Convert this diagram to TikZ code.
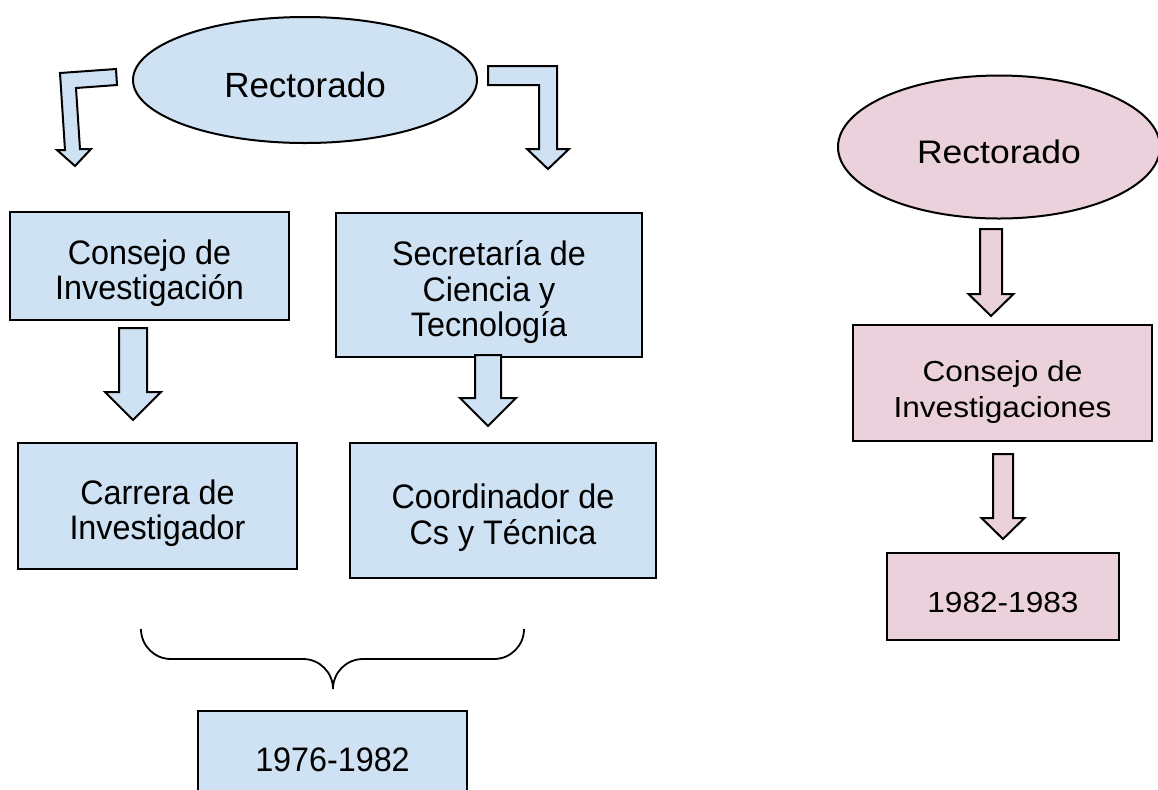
\documentclass[tikz,border=0pt]{standalone}
\usepackage{fontspec}
\setmainfont{Liberation Sans}
\newfontfamily\narrowfont[FakeStretch=0.95]{Liberation Sans}
\newfontfamily\widefont[FakeStretch=1.09]{Liberation Sans}
\usetikzlibrary{shapes.geometric, calc, positioning}
\definecolor{early}{RGB}{207, 226, 243}
\definecolor{late}{RGB}{234, 209, 220}
% hollow block arrow: colour, tail, tip, shaft half width, head half width, head length
\newcommand{\blockarrow}[6]{%
  \draw[flow, fill=#1] ($(#2)+(-#4,0)$) -- ($(#2)+(#4,0)$) -- ($(#3)+(#4,-#6)$) -- ($(#3)+(#5,-#6)$)
    -- (#3) -- ($(#3)+(-#5,-#6)$) -- ($(#3)+(-#4,-#6)$) -- cycle;}
% box text, set a little below the middle
\newcommand{\boxtext}[1]{\raisebox{0pt}[\dimexpr\height+9pt\relax][\depth]{\begin{tabular}{@{}c@{}}#1\end{tabular}}}

\begin{document}
\begin{tikzpicture}[
    x=0.5pt, y=-0.5pt,
    head/.style={ellipse, draw, line width=1pt, inner sep=0pt, align=center},
    office/.style={rectangle, draw, line width=1pt, inner sep=0pt, align=center,
                   font=\narrowfont\fontsize{17}{17.6}\selectfont},
    wideoffice/.style={office, font=\widefont\fontsize{14.5}{18}\selectfont},
    flow/.style={draw, line width=1pt, line join=miter}
]
\useasboundingbox (0,0) rectangle (1158,789);

% Left chart: 1976-1982
\node[head, fill=early, minimum width=172pt, minimum height=63pt,
      font=\fontsize{17.5}{20}\selectfont] (rectL) at (305,80) {\boxtext{Rectorado}};
\node[office, fill=early, minimum width=139.5pt, minimum height=54pt] (cons) at (149.5,266) {\boxtext{Consejo de\\Investigación}};
\node[office, fill=early, minimum width=153pt, minimum height=72pt] (secr) at (489,285) {\boxtext{Secretaría de\\Ciencia y\\Tecnología}};
\node[office, fill=early, minimum width=139.5pt, minimum height=63pt] (carr) at (157.5,506) {\boxtext{Carrera de\\Investigador}};
\node[office, fill=early, minimum width=153pt, minimum height=67.5pt] (coord) at (503,510.5) {\boxtext{Coordinador de\\Cs y Técnica}};
\node[office, fill=early, minimum width=134.5pt, minimum height=44pt] (per1) at (332.5,755) {\boxtext{1976-1982}};

% bent arrows out of the Rectorado
\draw[flow, fill=early] (60,73) -- (116,69) -- (117,85) -- (76,88) -- (80,149) -- (91,149)
    -- (75,166) -- (57,150) -- (65,150) -- cycle;
\draw[flow, fill=early] (488,66) -- (557,66) -- (557,149) -- (569,149) -- (548,169)
    -- (527,149) -- (539,149) -- (539,85) -- (488,85) -- cycle;

% straight arrows
\coordinate (a1) at ($(cons.south)+(-16.5,7)$);
\coordinate (a1tip) at ($(a1 |- carr.north)+(0,-22)$);
\blockarrow{early}{a1}{a1tip}{14}{28}{28}
\coordinate (a2) at ($(secr.south)+(-1,-3)$);
\coordinate (a2tip) at ($(a2 |- coord.north)+(0,-16)$);
\blockarrow{early}{a2}{a2tip}{13}{28}{28}

% brace over the period
\coordinate (braceL) at (141,629);
\coordinate (braceR) at (524,629);
\coordinate (braceTip) at (333,689);
\draw[line width=0.9pt] (braceL) to[out=-90, in=180] ++(30,30) -- ($(braceTip)+(-30,-30)$)
    to[out=0, in=90] (braceTip) to[out=90, in=180] ($(braceTip)+(30,-30)$)
    -- ($(braceR)+(-30,30)$) to[out=0, in=-90] (braceR);

% Right chart: 1982-1983
\node[head, fill=late, minimum width=161pt, minimum height=71.5pt,
      font=\widefont\fontsize{16.3}{18}\selectfont] (rectR) at (999,147) {\boxtext{Rectorado}};
\node[wideoffice, fill=late, minimum width=149.5pt, minimum height=58pt] (consR) at (1002.5,383) {\boxtext{Consejo de\\Investigaciones}};
\node[wideoffice, fill=late, minimum width=116pt, minimum height=43.5pt] (per2) at (1003,596.5) {\boxtext{1982-1983}};

\coordinate (a3) at ($(rectR.south)+(-8,9.5)$);
\coordinate (a3tip) at ($(a3 |- consR.north)+(0,-8)$);
\blockarrow{late}{a3}{a3tip}{11}{22.5}{22}
\coordinate (a4) at ($(consR.south)+(0.5,12)$);
\coordinate (a4tip) at ($(a4 |- per2.north)+(0,-13)$);
\blockarrow{late}{a4}{a4tip}{10}{21.5}{21}

\end{tikzpicture}
\end{document}
